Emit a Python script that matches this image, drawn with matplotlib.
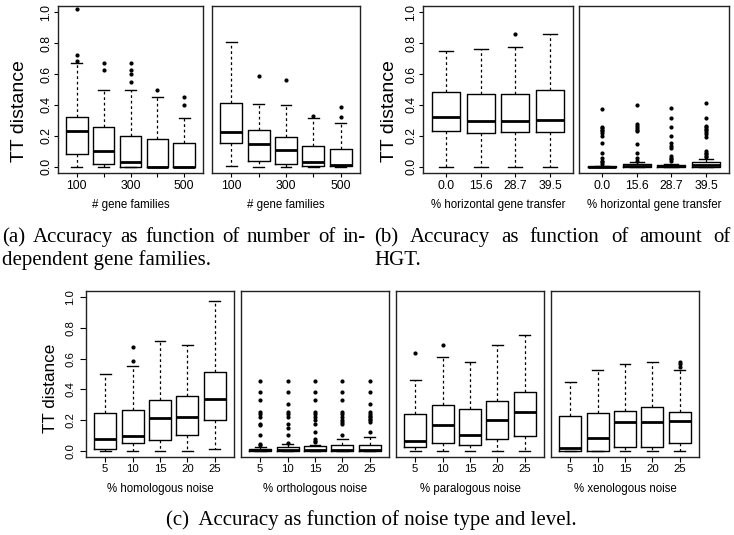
import matplotlib
matplotlib.use('Agg')
import matplotlib.pyplot as plt

# ---------------- data ----------------
fam_levels = ['100', '200', '300', '400', '500']
fam_labels = ['100', '', '300', '', '500']
hgt_levels = ['0.0', '15.6', '28.7', '39.5']
noise_levels = ['5', '10', '15', '20', '25']

# rows: [lower whisker, Q1, median, Q3, upper whisker]
fam_left = [[0.0, 0.086, 0.231, 0.324, 0.674],
            [0.0, 0.015, 0.100, 0.255, 0.500],
            [0.0, 0.0, 0.032, 0.199, 0.500],
            [0.0, 0.0, 0.0, 0.183, 0.450],
            [0.0, 0.0, 0.0, 0.151, 0.313]]
fam_left_out = [[0.685, 0.724, 1.02], [0.626, 0.674], [0.55, 0.60, 0.626, 0.674], [0.50], [0.40, 0.45]]

fam_right = [[0.005, 0.156, 0.227, 0.415, 0.806],
             [0.0, 0.039, 0.147, 0.238, 0.406],
             [0.0, 0.015, 0.108, 0.194, 0.402],
             [0.0, 0.004, 0.028, 0.134, 0.313],
             [0.0, 0.004, 0.010, 0.112, 0.281]]
fam_right_out = [[], [0.587], [0.56], [0.33], [0.32, 0.387]]

hgt_left = [[0.0, 0.231, 0.320, 0.486, 0.750],
            [0.0, 0.220, 0.294, 0.473, 0.760],
            [0.0, 0.225, 0.294, 0.473, 0.773],
            [0.0, 0.225, 0.300, 0.500, 0.862]]
hgt_left_out = [[], [], [0.862], []]

hgt_right = [[0.0, 0.0, 0.0, 0.004, 0.008],
             [0.0, 0.0, 0.003, 0.015, 0.030],
             [0.0, 0.0, 0.003, 0.012, 0.018],
             [0.0, 0.0, 0.010, 0.028, 0.052]]
hgt_right_out = [[0.374, 0.26, 0.25, 0.24, 0.23, 0.22, 0.20, 0.157, 0.092, 0.056, 0.04, 0.03, 0.02],
                 [0.40, 0.28, 0.265, 0.25, 0.24, 0.23, 0.15, 0.09, 0.06, 0.04],
                 [0.378, 0.314, 0.256, 0.202, 0.153, 0.135, 0.12, 0.07, 0.06, 0.05, 0.04],
                 [0.41, 0.314, 0.265, 0.255, 0.245, 0.235, 0.225, 0.21, 0.19, 0.10, 0.09, 0.08, 0.07, 0.065]]

homologous = [[0.0, 0.015, 0.078, 0.245, 0.502],
              [0.0, 0.050, 0.095, 0.264, 0.550],
              [0.0, 0.069, 0.214, 0.331, 0.714],
              [0.0, 0.100, 0.221, 0.357, 0.690],
              [0.015, 0.200, 0.340, 0.513, 0.974]]
homologous_out = [[], [0.587, 0.677], [], [], []]

orthologous = [[0.0, 0.0, 0.003, 0.011, 0.028],
               [0.0, 0.0, 0.005, 0.024, 0.043],
               [0.0, 0.0, 0.005, 0.030, 0.041],
               [0.0, 0.0, 0.005, 0.041, 0.078],
               [0.0, 0.0, 0.005, 0.041, 0.091]]
orthologous_out = [[0.452, 0.381, 0.33, 0.255, 0.24, 0.223, 0.177, 0.165, 0.104, 0.045, 0.035],
                   [0.452, 0.381, 0.303, 0.255, 0.24, 0.223, 0.177, 0.15, 0.104, 0.05],
                   [0.452, 0.381, 0.33, 0.255, 0.24, 0.223, 0.20, 0.177, 0.125, 0.075, 0.065, 0.06],
                   [0.452, 0.381, 0.33, 0.255, 0.24, 0.223, 0.20, 0.19, 0.177, 0.10],
                   [0.452, 0.381, 0.303, 0.255, 0.24, 0.23, 0.22, 0.21, 0.20, 0.19, 0.125]]

paralogous = [[0.0, 0.028, 0.065, 0.238, 0.461],
              [0.0, 0.052, 0.165, 0.300, 0.613],
              [0.0, 0.039, 0.100, 0.275, 0.576],
              [0.0, 0.076, 0.203, 0.327, 0.688],
              [0.0, 0.095, 0.251, 0.385, 0.751]]
paralogous_out = [[0.638], [0.69], [], [], []]

xenologous = [[0.0, 0.002, 0.017, 0.227, 0.450],
              [0.0, 0.0, 0.084, 0.245, 0.526],
              [0.0, 0.026, 0.188, 0.258, 0.565],
              [0.0, 0.026, 0.188, 0.288, 0.576],
              [0.0, 0.050, 0.197, 0.253, 0.526]]
xenologous_out = [[], [], [], [], [0.548, 0.563, 0.578]]

y_ticks = [0.0, 0.2, 0.4, 0.6, 0.8, 1.0]
y_ticklabels = ['0.0', '0.2', '0.4', '0.6', '0.8', '1.0']

# ---------------- figure ----------------
W, H = 734, 535
fig = plt.figure(figsize=(W / 100, H / 100), dpi=100)
SANS = ['Liberation Sans', 'DejaVu Sans']
SERIF = ['Liberation Serif', 'DejaVu Serif']
PX = 0.72  # points per pixel


def make_axes(x0, y0, x1, y1):
    return fig.add_axes([x0 / W, 1 - y1 / H, (x1 - x0) / W, (y1 - y0) / H])


def draw_panel(ax, rows, outs, labels, xlabel, tick_fs, tick_len, xpad,
               show_y, xlabel_y, ticklen_y, ypad):
    stats = []
    for r, o in zip(rows, outs):
        stats.append(dict(whislo=r[0], q1=r[1], med=r[2], q3=r[3], whishi=r[4], fliers=o))
    n = len(rows)
    pos = list(range(1, n + 1))
    ax.bxp(stats, positions=pos, widths=0.8, capwidths=0.4, showfliers=True,
           manage_ticks=False,
           boxprops=dict(color='black', linewidth=1.0),
           whiskerprops=dict(color='black', linewidth=0.9, linestyle=(0, (2.2, 2.2))),
           capprops=dict(color='black', linewidth=1.0),
           medianprops=dict(color='black', linewidth=2.0),
           flierprops=dict(marker='o', markersize=2.0, markerfacecolor='black',
                           markeredgecolor='black', linestyle='none'))
    ext = 0.04 * n
    ax.set_xlim(0.5 - ext, n + 0.5 + ext)
    ax.set_ylim(-0.04, 1.04)
    ax.set_xticks(pos)
    ax.set_xticklabels(labels, fontsize=tick_fs, family=SANS)
    ax.tick_params(axis='x', direction='out', length=tick_len * PX, width=0.8, pad=xpad * PX)
    if show_y:
        ax.set_yticks(y_ticks)
        ax.set_yticklabels(y_ticklabels, fontsize=tick_fs, family=SANS, rotation=90, va='center')
        ax.tick_params(axis='y', direction='out', length=ticklen_y * PX, width=0.8, pad=ypad * PX)
    else:
        ax.set_yticks([])
    for s in ax.spines.values():
        s.set_linewidth(1.0)
        s.set_color('#222222')
    ax.set_xlabel(xlabel, fontsize=8.3, family=SANS)
    bb = ax.get_position()
    ax_h_px = bb.height * H
    ax_bottom_px = H - bb.y0 * H
    ax.xaxis.set_label_coords(0.5, -(xlabel_y - ax_bottom_px) / ax_h_px)
    ax.xaxis.label.set_va('center')


# top row
ax_a1 = make_axes(58, 6, 203, 173)
ax_a2 = make_axes(212, 6, 360, 173)
ax_b1 = make_axes(423, 6, 573, 173)
ax_b2 = make_axes(579, 6, 729, 173)
# bottom row
ax_c1 = make_axes(86, 291, 234, 457)
ax_c2 = make_axes(241, 291, 389, 457)
ax_c3 = make_axes(396, 291, 544, 457)
ax_c4 = make_axes(551, 291, 699, 457)

top_kw = dict(tick_fs=8.8, tick_len=4, xpad=3, xlabel_y=205, ticklen_y=4, ypad=1.5)
bot_kw = dict(tick_fs=8.2, tick_len=5, xpad=1.5, xlabel_y=489, ticklen_y=6, ypad=5)

draw_panel(ax_a1, fam_left, fam_left_out, fam_labels, '# gene families', show_y=True, **top_kw)
draw_panel(ax_a2, fam_right, fam_right_out, fam_labels, '# gene families', show_y=False, **top_kw)
draw_panel(ax_b1, hgt_left, hgt_left_out, hgt_levels, '% horizontal gene transfer', show_y=True, **top_kw)
draw_panel(ax_b2, hgt_right, hgt_right_out, hgt_levels, '% horizontal gene transfer', show_y=False, **top_kw)
draw_panel(ax_c1, homologous, homologous_out, noise_levels, '% homologous noise', show_y=True, **bot_kw)
draw_panel(ax_c2, orthologous, orthologous_out, noise_levels, '% orthologous noise', show_y=False, **bot_kw)
draw_panel(ax_c3, paralogous, paralogous_out, noise_levels, '% paralogous noise', show_y=False, **bot_kw)
draw_panel(ax_c4, xenologous, xenologous_out, noise_levels, '% xenologous noise', show_y=False, **bot_kw)

# y labels (TT distance)
fig.text(20 / W, 1 - 111 / H, 'TT distance', rotation=90, ha='center', va='center',
         fontsize=14, family=SANS)
fig.text(390 / W, 1 - 111 / H, 'TT distance', rotation=90, ha='center', va='center',
         fontsize=14, family=SANS)
fig.text(50 / W, 1 - 388 / H, 'TT distance', rotation=90, ha='center', va='center',
         fontsize=12.3, family=SANS)

# captions
CAP_FS = 15


def justified(words, x0, x1, ybase):
    texts = [fig.text(0, 1 - ybase / H, w, fontsize=CAP_FS, family=SERIF, va='baseline', ha='left')
             for w in words]
    fig.canvas.draw()
    r = fig.canvas.get_renderer()
    widths = [t.get_window_extent(r).width for t in texts]
    gap = (x1 - x0 - sum(widths)) / (len(words) - 1)
    x = x0
    for t, wd in zip(texts, widths):
        t.set_x(x / W)
        x += wd + gap


justified(['(a)', 'Accuracy', 'as', 'function', 'of', 'number', 'of', 'in-'], 2, 366, 242)
fig.text(2 / W, 1 - 265 / H, 'dependent gene families.', fontsize=CAP_FS, family=SERIF,
         va='baseline', ha='left')
justified(['(b)', 'Accuracy', 'as', 'function', 'of', 'amount', 'of'], 374, 731, 242)
fig.text(374 / W, 1 - 265 / H, 'HGT.', fontsize=CAP_FS, family=SERIF, va='baseline', ha='left')
fig.text(371 / W, 1 - 525 / H, '(c)  Accuracy as function of noise type and level.',
         fontsize=CAP_FS, family=SERIF, va='baseline', ha='center')

fig.savefig('out.png', dpi=100)
